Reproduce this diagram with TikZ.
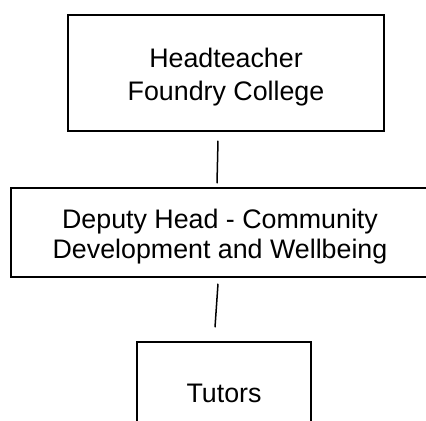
\documentclass[tikz,border=0pt]{standalone}
\usepackage{fontspec}
\setmainfont{Liberation Sans}
\newcommand{\topstrut}{\rule{0pt}{28bp}}
\begin{document}
\begin{tikzpicture}[x=1bp,y=-1bp,
  post/.style={rectangle,draw,line width=1.5bp,align=center,inner sep=0pt,
    font=\fontsize{26.9}{30}\selectfont},
  link/.style={line width=1.5bp}]
  \useasboundingbox (0,0) rectangle (426,421);
  \clip (0,0) rectangle (426,421);
  \draw(226,73) node[post,minimum width=316bp,minimum height=116bp,
    font=\fontsize{26.9}{33}\selectfont] (head) {\topstrut Headteacher\\Foundry College};
  \draw(220,232.5) node[post,minimum width=418bp,minimum height=89bp] (dep) {\topstrut Deputy Head - Community\\Development and Wellbeing};
  \draw(224,393) node[post,minimum width=174bp,minimum height=102bp] (tut) {Tutors};
  \draw[link] ([shift={(-8,9)}]head.south) -- ([shift={(-3,-4)}]dep.north);
  \draw[link] ([shift={(-2,6)}]dep.south) -- ([shift={(-9,-14)}]tut.north);
\end{tikzpicture}
\end{document}
